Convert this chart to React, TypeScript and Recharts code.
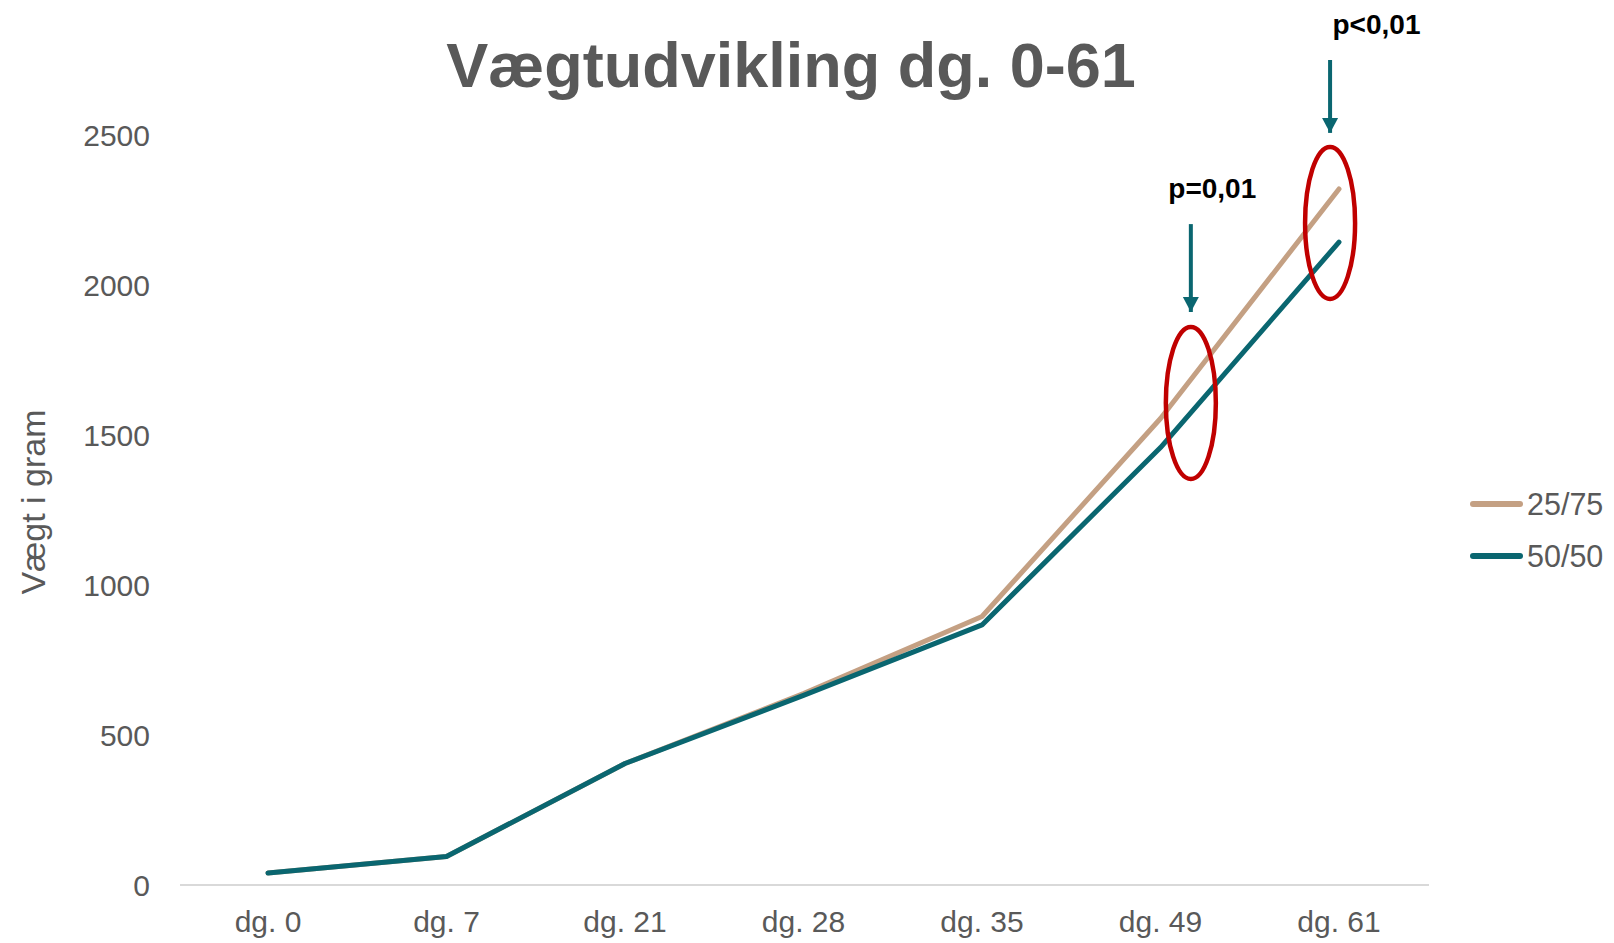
import React from 'react';
import {
  LineChart,
  Line,
  XAxis,
  YAxis,
  Legend,
  ReferenceDot,
  ReferenceLine,
} from 'recharts';

// Categories and series values
const categories = ['dg. 0', 'dg. 7', 'dg. 21', 'dg. 28', 'dg. 35', 'dg. 49', 'dg. 61'];
const weight2575 = [40, 95, 405, 638, 895, 1555, 2320];
const weight5050 = [40, 95, 405, 632, 867, 1458, 2143];
const yTicks = [0, 500, 1000, 1500, 2000, 2500];

// Significance annotations (x in category-index units, y in grams)
const annotationText = ['p=0,01', 'p<0,01'];
const ellipseX = [5.17, 5.95];
const ellipseY = [1607, 2207];
const arrowTopY = [2203, 2750];
const arrowTipY = [1910, 2507];
const textX = [5.29, 6.21];
const textY = [2290, 2837];

const FONT = '"Liberation Sans", Arial, sans-serif';
const GREY = '#595959';
const TAN = '#C4A083';
const TEAL = '#0A6670';
const RED = '#C00000';

const data = categories.map((day, i) => ({
  day,
  a: weight2575[i],
  b: weight5050[i],
}));

const seriesInfo = [
  { key: 'a', name: '25/75', color: TAN },
  { key: 'b', name: '50/50', color: TEAL },
];

const LegendContent = () => (
  <div style={{ fontFamily: FONT }}>
    {seriesInfo.map((s) => (
      <div key={s.key} style={{ display: 'flex', alignItems: 'center', height: 52 }}>
        <div style={{ width: 53, height: 6, borderRadius: 3, background: s.color, marginRight: 4 }} />
        <span style={{ fontSize: 30.5, color: GREY }}>{s.name}</span>
      </div>
    ))}
  </div>
);

const YLabel = (props: any) => {
  const vb = props.viewBox || {};
  const cx = vb.x + 3;
  const cy = vb.y + vb.height / 2 - 8;
  return (
    <text
      x={cx}
      y={cy}
      transform={`rotate(-90, ${cx}, ${cy})`}
      textAnchor="middle"
      dominantBaseline="central"
      fill={GREY}
      fontSize={34}
      fontFamily={FONT}
    >
      Vægt i gram
    </text>
  );
};

const App = () => {
  return (
    <div style={{ position: 'absolute', left: 0, top: 0, width: 1614, height: 943, background: '#fff' }}>
      <div
        style={{
          position: 'absolute',
          left: 0,
          width: 1582,
          top: 34,
          textAlign: 'center',
          fontFamily: FONT,
          fontWeight: 'bold',
          fontSize: 63,
          lineHeight: 1,
          color: GREY,
        }}
      >
        Vægtudvikling dg. 0-61
      </div>
      <LineChart
        width={1614}
        height={943}
        data={data}
        margin={{ top: 135, right: 185, bottom: 0, left: 30 }}
        style={{ position: 'absolute', left: 0, top: 0 }}
      >
        <XAxis
          dataKey="day"
          interval={0}
          height={58}
          padding={{ left: 88, right: 90 }}
          axisLine={{ stroke: '#D9D9D9', strokeWidth: 2 }}
          tickLine={false}
          tickSize={0}
          tickMargin={26}
          tick={{ fill: GREY, fontSize: 30, fontFamily: FONT }}
        />
        <XAxis
          xAxisId="ann"
          type="number"
          domain={[0, 6]}
          allowDataOverflow
          padding={{ left: 88, right: 90 }}
          hide
        />
        <YAxis
          domain={[0, 2500]}
          ticks={yTicks}
          width={150}
          axisLine={false}
          tickLine={false}
          tickSize={0}
          tickMargin={30}
          tick={{ fill: GREY, fontSize: 30, fontFamily: FONT }}
          label={{ content: <YLabel /> }}
        />
        <Legend
          layout="vertical"
          align="center"
          verticalAlign="middle"
          content={<LegendContent />}
          wrapperStyle={{ left: 1470, top: 478, width: 150 }}
        />
        <Line
          type="linear"
          dataKey="a"
          name="25/75"
          stroke={TAN}
          strokeWidth={5}
          strokeLinejoin="round"
          strokeLinecap="round"
          dot={false}
          isAnimationActive={false}
        />
        <Line
          type="linear"
          dataKey="b"
          name="50/50"
          stroke={TEAL}
          strokeWidth={5}
          strokeLinejoin="round"
          strokeLinecap="round"
          dot={false}
          isAnimationActive={false}
        />
        {annotationText.map((t, i) => (
          <ReferenceLine
            key={`shaft-${i}`}
            xAxisId="ann"
            ifOverflow="visible"
            segment={[
              { x: ellipseX[i], y: arrowTopY[i] },
              { x: ellipseX[i], y: arrowTipY[i] },
            ]}
            stroke={TEAL}
            strokeWidth={4}
          />
        ))}
        {annotationText.map((t, i) => (
          <ReferenceDot
            key={`head-${i}`}
            xAxisId="ann"
            x={ellipseX[i]}
            y={arrowTipY[i]}
            ifOverflow="visible"
            shape={(p: any) => (
              <polygon
                points={`${p.cx - 8},${p.cy - 15} ${p.cx + 8},${p.cy - 15} ${p.cx},${p.cy}`}
                fill={TEAL}
              />
            )}
          />
        ))}
        {annotationText.map((t, i) => (
          <ReferenceDot
            key={`ell-${i}`}
            xAxisId="ann"
            x={ellipseX[i]}
            y={ellipseY[i]}
            ifOverflow="visible"
            shape={(p: any) => (
              <ellipse cx={p.cx} cy={p.cy} rx={25} ry={76} fill="none" stroke={RED} strokeWidth={4.5} />
            )}
          />
        ))}
        {annotationText.map((t, i) => (
          <ReferenceDot
            key={`txt-${i}`}
            xAxisId="ann"
            x={textX[i]}
            y={textY[i]}
            ifOverflow="visible"
            shape={(p: any) => (
              <text
                x={p.cx}
                y={p.cy}
                textAnchor="middle"
                fontFamily={FONT}
                fontWeight="bold"
                fontSize={28}
                fill="#000"
              >
                {t}
              </text>
            )}
          />
        ))}
      </LineChart>
    </div>
  );
};

export default App;
